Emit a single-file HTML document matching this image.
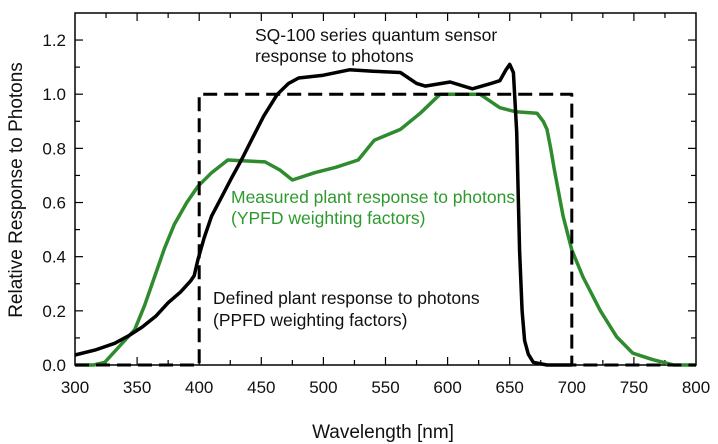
<!DOCTYPE html><html><head><style>body{margin:0;background:#fff}svg{display:block}text{font-family:"Liberation Sans",Arial,sans-serif}</style></head><body>
<svg id="s" width="718" height="444" xmlns="http://www.w3.org/2000/svg">
<rect x="75" y="13" width="621" height="352" fill="none" stroke="#000" stroke-width="1.5"/>
<g id="t" stroke="#000" stroke-width="1.2"></g>
<g id="l" font-size="17" fill="#111"></g>
<g id="c" fill="none" stroke-linejoin="round"></g>
<text x="255" y="41" font-size="17.5" fill="#111">SQ-100 series quantum sensor</text>
<text x="255" y="62" font-size="17.5" fill="#111">response to photons</text>
<text x="231" y="203" font-size="17.5" fill="#2e9a2e">Measured plant response to photons</text>
<text x="231" y="224" font-size="17.5" fill="#2e9a2e">(YPFD weighting factors)</text>
<text x="213" y="304" font-size="17.5" fill="#111">Defined plant response to photons</text>
<text x="213" y="326" font-size="17.5" fill="#111">(PPFD weighting factors)</text>
<text x="383" y="438" font-size="19" text-anchor="middle" fill="#111">Wavelength [nm]</text>
<text transform="translate(22,190) rotate(-90)" font-size="19" text-anchor="middle" fill="#111">Relative Response to Photons</text>
</svg>
<script>
const X=w=>75+(w-300)*621/500,Y=v=>365-v*270.8;
const ns="http://www.w3.org/2000/svg";
function el(p,n,a){const e=document.createElementNS(ns,n);for(const k in a)e.setAttribute(k,a[k]);document.getElementById(p).appendChild(e);return e;}
for(let w=325;w<800;w+=25){const L=w%50==0?8:5;el('t','line',{x1:X(w),x2:X(w),y1:365,y2:365-L});el('t','line',{x1:X(w),x2:X(w),y1:13,y2:13+L});}
for(let v=0.1;v<1.25;v+=0.1){const L=Math.round(v*10)%2==0?8:5;el('t','line',{x1:75,x2:75+L,y1:Y(v),y2:Y(v)});el('t','line',{x1:696,x2:696-L,y1:Y(v),y2:Y(v)});}
for(let w=300;w<=800;w+=50){el('l','text',{x:X(w),y:393,'text-anchor':'middle'}).textContent=w;}
for(let i=0;i<=6;i++){el('l','text',{x:66,y:Y(i*0.2)+6,'text-anchor':'end'}).textContent=(i*0.2).toFixed(1);}
const pts=a=>a.map(p=>X(p[0]).toFixed(1)+','+Y(p[1]).toFixed(1)).join(' ');
el('c','polyline',{points:pts([[300,0],[315,0],[324,0.01],[336,0.07],[348,0.13],[356,0.22],[364,0.325],[372,0.43],[380,0.52],[390,0.6],[399,0.66],[410,0.71],[423,0.757],[453,0.75],[465,0.72],[475,0.683],[493,0.71],[510,0.73],[528,0.757],[541,0.83],[562,0.87],[578,0.93],[594,1.0],[626,1.0],[642,0.95],[655,0.935],[672,0.93],[677,0.9],[680,0.87],[683,0.8],[686,0.72],[693,0.55],[700,0.425],[709,0.325],[723,0.2],[736,0.105],[749,0.044],[765,0.02],[782,0.0],[800,0]]),stroke:'#2e8b2e','stroke-width':3.5});
el('c','polyline',{points:pts([[300,0.037],[316,0.055],[332,0.08],[344,0.11],[354,0.14],[365,0.18],[375,0.23],[385,0.27],[393,0.31],[396,0.33],[399,0.39],[404,0.47],[410,0.55],[418,0.62],[426,0.69],[434,0.757],[442,0.83],[452,0.92],[463,1.0],[472,1.04],[480,1.06],[500,1.07],[521,1.09],[540,1.085],[562,1.08],[575,1.04],[582,1.03],[602,1.045],[620,1.02],[635,1.04],[642,1.05],[647,1.09],[650,1.11],[653,1.08],[655.6,0.86],[658,0.42],[660,0.2],[662,0.09],[665,0.04],[669,0.01],[680,0.0],[700,0.0]]),stroke:'#000','stroke-width':3.5});
el('c','polyline',{points:pts([[300,0],[400,0],[400,1],[700,1],[700,0],[800,0]]),stroke:'#000','stroke-width':3,'stroke-dasharray':'14 7'});
</script></body></html>
